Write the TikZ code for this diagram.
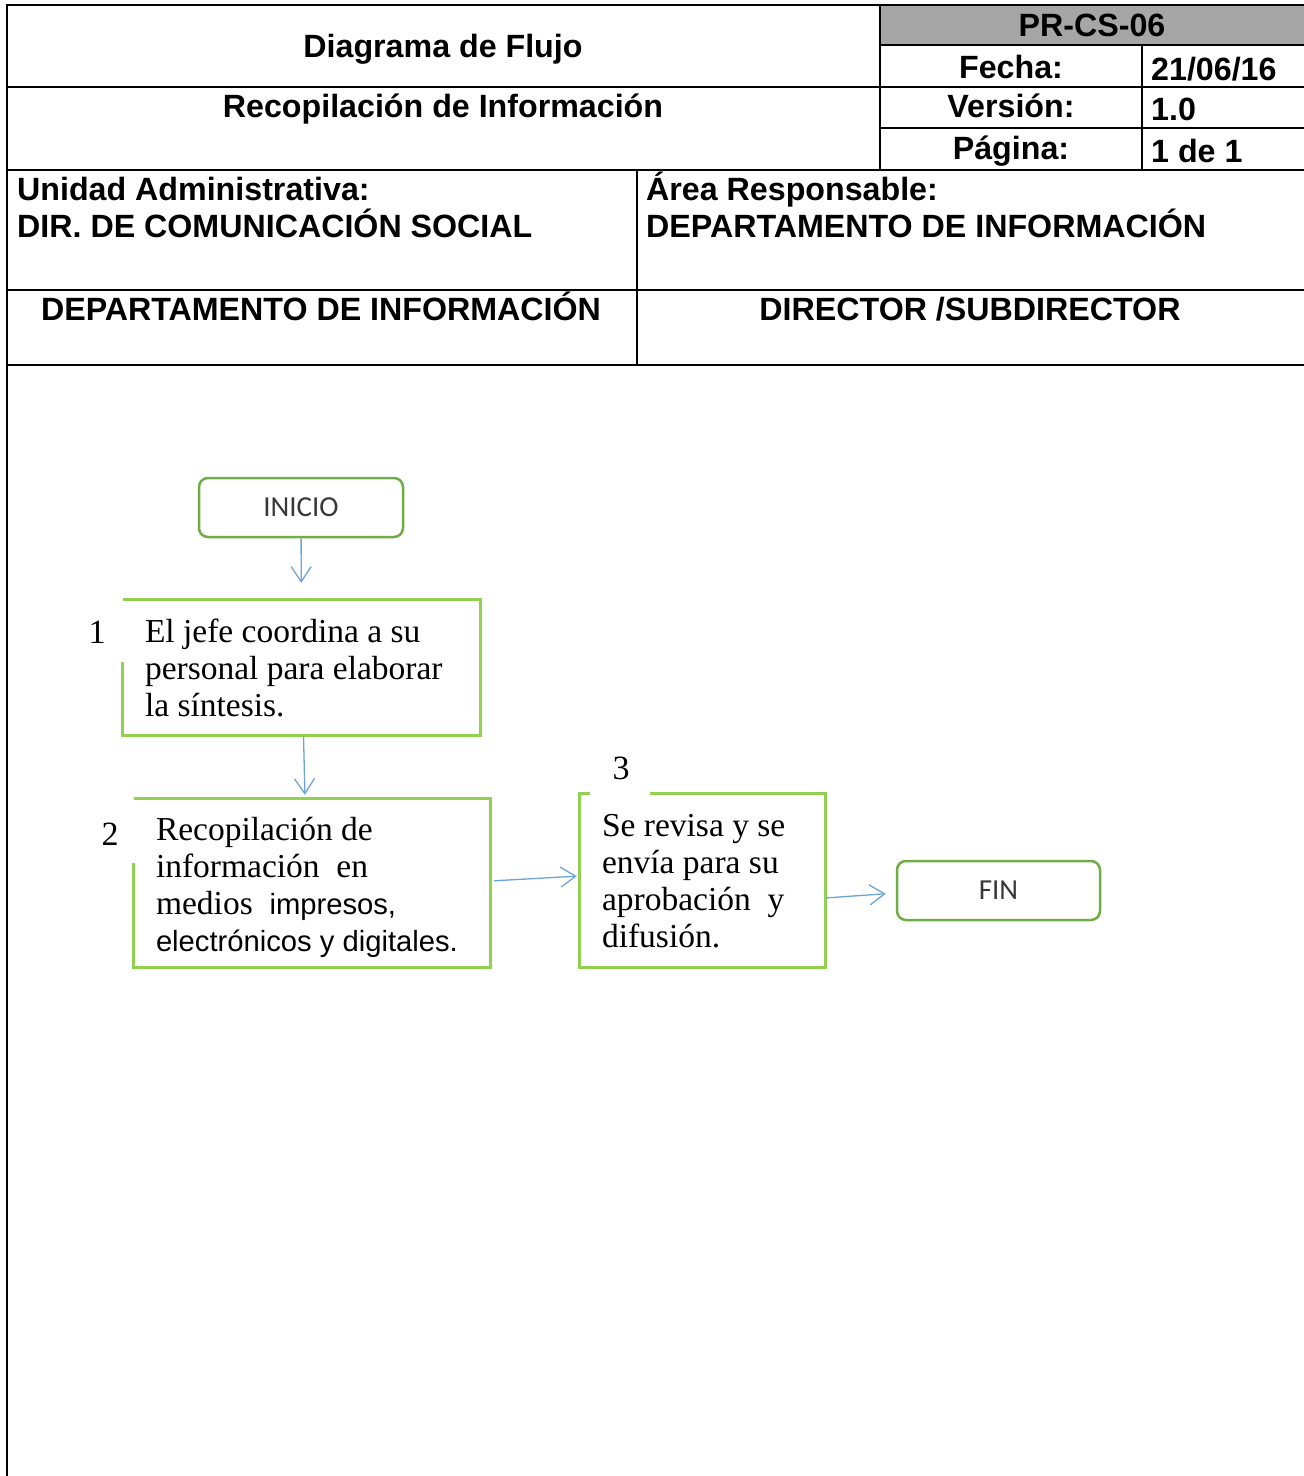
\documentclass[tikz,border=0pt]{standalone}
\usepackage{fontspec}
\setmainfont{Liberation Serif}
\newfontfamily\hdrsans{Liberation Sans}
\newfontfamily\termsans{Carlito}
\usetikzlibrary{positioning, calc, arrows.meta}
\definecolor{cellgray}{RGB}{166,166,166}
\definecolor{boxgreen}{RGB}{146,208,80}
\definecolor{termgreen}{RGB}{112,173,71}
\definecolor{flowblue}{RGB}{108,164,218}

\tikzset{
  hdr/.style={font=\hdrsans\bfseries\fontsize{32.2}{36}\selectfont, inner sep=0pt},
  rule/.style={line width=2pt},
  terminal/.style={draw=termgreen, line width=2.5pt, rounded corners=9pt, minimum width=204pt, minimum height=59pt, inner sep=0pt, font=\termsans\fontsize{29}{32}\selectfont, text=black!78},
  stepline/.style={draw=boxgreen, line width=2.8pt},
  steptext/.style={align=left, inner sep=0pt, anchor=west, font=\fontsize{33.5}{37}\selectfont},
  stepnum/.style={inner sep=0pt, font=\fontsize{34}{37}\selectfont},
  flow/.style={draw=flowblue, line width=1.3pt, -{Straight Barb[length=15pt,width=20pt]}},
}
\newcommand{\sanstxt}{\hdrsans\fontsize{29.2}{35}\selectfont}

\begin{document}
\begin{tikzpicture}[x=1pt, y=-1pt]
\useasboundingbox (0,0) rectangle (1304,1476);

% encabezado
\fill[cellgray] (880,5) rectangle (1304,45);
\draw[rule] (7,1476) -- (7,5) -- (1304,5);
\draw[rule] (880,45) -- (1304,45);
\draw[rule] (7,87) -- (1304,87);
\draw[rule] (880,128) -- (1304,128);
\draw[rule] (7,170) -- (1304,170);
\draw[rule] (7,290) -- (1304,290);
\draw[rule] (7,365) -- (1304,365);
\draw[rule] (880,5) -- (880,170);
\draw[rule] (1142,45) -- (1142,170);
\draw[rule] (637,170) -- (637,365);

\node[hdr, anchor=base] (titulo) at (443,57) {Diagrama de Flujo};
\node[hdr, anchor=base] (proceso) at (443,117) {Recopilación de Información};
\node[hdr, anchor=base] (codigo) at (1092,36) {PR-CS-06};
\node[hdr, anchor=base] (fecha) at (1011,78) {Fecha:};
\node[hdr, anchor=base west] (fechaval) at (1151,80) {21/06/16};
\node[hdr, anchor=base] (version) at (1011,117) {Versión:};
\node[hdr, anchor=base west] (versionval) at (1151,120) {1.0};
\node[hdr, anchor=base] (pagina) at (1011,159) {Página:};
\node[hdr, anchor=base west] (paginaval) at (1151,162) {1 de 1};

\node[hdr, anchor=base west] (unidad) at (17,200) {Unidad Administrativa:};
\node[hdr, anchor=base west] (unidadval) at (17,237) {DIR. DE COMUNICACIÓN SOCIAL};
\node[hdr, anchor=base west] (area) at (646,200) {Área Responsable:};
\node[hdr, anchor=base west] (areaval) at (646,237) {DEPARTAMENTO DE INFORMACIÓN};

\node[hdr, anchor=base] (carril1) at (321,320) {DEPARTAMENTO DE INFORMACIÓN};
\node[hdr, anchor=base] (carril2) at (970,320) {DIRECTOR /SUBDIRECTOR};

% diagrama
\node[terminal] (inicio) at (301,507.5) {INICIO};

\node[minimum width=357pt, minimum height=135pt, inner sep=0pt] (s1) at (301.5,667.5) {};
\draw[stepline] ([yshift=-62pt]s1.north west) -- (s1.south west) -- (s1.south east) -- (s1.north east) -- (s1.north west);
\node[steptext] (t1) at ([xshift=22pt]s1.west) {El jefe coordina a su\\personal para elaborar\\la síntesis.};
\node[stepnum] (n1) at (97,632) {1};

\node[minimum width=356pt, minimum height=168pt, inner sep=0pt] (s2) at (312,883) {};
\draw[stepline] ([yshift=-64pt]s2.north west) -- (s2.south west) -- (s2.south east) -- (s2.north east) -- (s2.north west);
\node[steptext] (t2) at ([xshift=22pt, yshift=-4pt]s2.west) {Recopilación de\\información\ \ en\\medios\ \ {\sanstxt impresos,}\\{\sanstxt electrónicos y digitales.}};
\node[stepnum] (n2) at (110,834) {2};

\node[minimum width=245pt, minimum height=173pt, inner sep=0pt] (s3) at (702.5,880.5) {};
\draw[stepline] ([xshift=10pt]s3.north west) -- (s3.north west) -- (s3.south west) -- (s3.south east) -- (s3.north east) -- ([xshift=70pt]s3.north west);
\node[steptext] (t3) at ([xshift=22pt, yshift=-1pt]s3.west) {Se revisa y se\\envía para su\\aprobación\ \ y\\difusión.};
\node[stepnum] (n3) at (621,768) {3};

\node[terminal, minimum width=203pt] (fin) at (998.5,890.5) {FIN};

\draw[flow, shorten >=17pt] (inicio) -- (s1);
\draw[flow, shorten >=4pt] ([xshift=2pt]s1.south) -- ([xshift=-7pt]s2.north);
\draw[flow, shorten <=4pt, shorten >=3pt] ([yshift=2pt]s2.east) -- ([yshift=4.5pt]s3.west);
\draw[flow, shorten <=1pt, shorten >=10pt] ([yshift=-17.5pt]s3.east) -- ([yshift=-2.5pt]fin.west);
\end{tikzpicture}
\end{document}
